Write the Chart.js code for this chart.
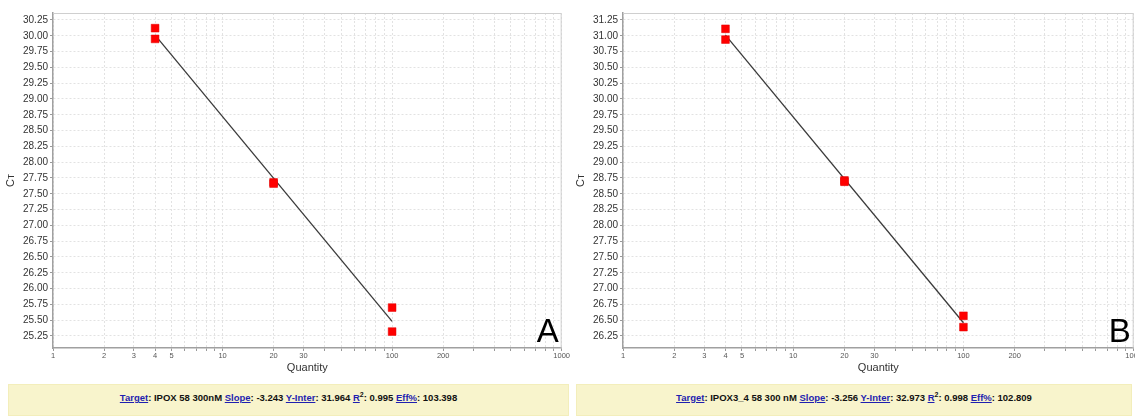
<!DOCTYPE html>
<html>
<head>
<meta charset="utf-8">
<script src="https://cdn.jsdelivr.net/npm/chart.js@4.4.1/dist/chart.umd.min.js"></script>
<style>
  html, body { margin: 0; padding: 0; background: #fff; overflow: hidden; width: 1135px; height: 416px; }
  .box { position: absolute; }
  .banner {
    position: absolute; top: 384px; height: 32px;
    background: #f8f4cc; border: 1px solid #f3eebb; box-sizing: border-box;
    font: bold 9.5px Arial, "Liberation Sans", sans-serif; color: #111;
    text-align: center; line-height: 25px; white-space: nowrap;
  }
  .banner a { color: #1f1fb0; text-decoration: underline; }
  .banner sup { font-size: 7px; line-height: 0; }
</style>
</head>
<body>
<div class="box" style="left:0;top:0;width:570px;height:380px"><canvas id="canvas"></canvas></div>
<div class="box" style="left:570px;top:0;width:572px;height:380px"><canvas id="canvas1"></canvas></div>

<div class="banner" style="left:8px;width:561px">
  <a>Target</a>: IPOX 58 300nM <a>Slope</a>: -3.243 <a>Y-Inter</a>: 31.964 <a>R</a><sup>2</sup>: 0.995 <a>Eff%</a>: 103.398
</div>
<div class="banner" style="left:576px;width:556px">
  <a>Target</a>: IPOX3_4 58 300 nM <a>Slope</a>: -3.256 <a>Y-Inter</a>: 32.973 <a>R</a><sup>2</sup>: 0.998 <a>Eff%</a>: 102.809
</div>

<script>
/* date */
const quantity = [4, 4, 20, 20, 100, 100];
const ctA = [30.12, 29.95, 27.68, 27.66, 25.70, 25.32];
const ctB = [31.11, 30.94, 28.71, 28.69, 26.57, 26.39];

// linia de regresie (capetele la 4 si 100)
const fitQty = [4, 100];
const fitA = [30.01, 25.48];
const fitB = [31.01, 26.46];

// etichete axe
const xTicks = [1,2,3,4,5,6,7,8,9,10,20,30,40,50,60,70,80,90,100,200,300,400,500,600,700,800,900,1000];
const xLabels = [1, 2, 3, 4, 5, 10, 20, 30, 100, 200, 1000];
const yTicksA = [25.25,25.5,25.75,26,26.25,26.5,26.75,27,27.25,27.5,27.75,28,28.25,28.5,28.75,29,29.25,29.5,29.75,30,30.25];
const yTicksB = [26.25,26.5,26.75,27,27.25,27.5,27.75,28,28.25,28.5,28.75,29,29.25,29.5,29.75,30,30.25,30.5,30.75,31,31.25];

const FONT = 'Arial, "Liberation Sans", sans-serif';

const frame = {
  id: 'frame',
  afterDraw(chart, args, opts) {
    const a = chart.chartArea;
    const c = chart.ctx;
    c.save();
    c.strokeStyle = '#cfcfcf';
    c.lineWidth = 1;
    c.beginPath();
    c.moveTo(a.left, a.top + 0.5);
    c.lineTo(a.right - 0.5, a.top + 0.5);
    c.lineTo(a.right - 0.5, a.bottom);
    c.stroke();
    c.fillStyle = '#000';
    c.font = '33px ' + FONT;
    c.textAlign = 'right';
    c.textBaseline = 'alphabetic';
    c.fillText(opts.letter, a.right - 3, a.bottom - 6);
    c.restore();
  }
};

function makeChart(id, ct, fit, yTicks, yMin, yMax, letter) {
  const ctx = document.getElementById(id);
  return new Chart(ctx, {
    type: 'scatter',
    data: {
      datasets: [{
        data: quantity.map((q, i) => ({x: q, y: ct[i]})),
        pointStyle: 'rect',
        pointRadius: 5.5,
        pointBackgroundColor: '#ff0000',
        pointBorderColor: '#e00000',
        pointBorderWidth: 0.5,
        showLine: false
      },
      {
        data: fitQty.map((q, i) => ({x: q, y: fit[i]})),
        showLine: true,
        borderColor: '#3a3a3a',
        borderWidth: 1.3,
        pointRadius: 0
      }]
    },
    options: {
      responsive: true,
      maintainAspectRatio: false,
      animation: false,
      layout: { padding: { top: 13, right: 8, left: 0, bottom: 0 } },
      plugins: {
        legend: { display: false },
        tooltip: { enabled: false },
        frame: { letter: letter }
      },
      scales: {
        x: {
          type: 'logarithmic',
          min: 1, max: 1000,
          afterBuildTicks: s => { s.ticks = xTicks.map(v => ({value: v})); },
          afterFit: s => { s.height = 32; },
          ticks: {
            autoSkip: false, maxRotation: 0, padding: 0,
            color: '#555', font: { family: FONT, size: 7.5 },
            callback: v => xLabels.includes(v) ? String(v) : ''
          },
          grid: { color: '#e2e2e2', tickColor: '#999', tickLength: 3 },
          border: { color: '#a0a0a0', width: 1.5, dash: [2, 2] },
          title: { display: true, text: 'Quantity', color: '#333',
                   font: { family: FONT, size: 11 }, padding: { top: 2, bottom: 5 } }
        },
        y: {
          type: 'linear',
          min: yMin, max: yMax,
          afterBuildTicks: s => { s.ticks = yTicks.map(v => ({value: v})); },
          afterFit: s => { s.width = 53; },
          ticks: {
            autoSkip: false, padding: 2,
            color: '#333', font: { family: FONT, size: 10 },
            callback: v => v.toFixed(2)
          },
          grid: { color: '#e2e2e2', tickColor: '#999', tickLength: 3 },
          border: { color: '#a0a0a0', width: 1.5, dash: [2, 2] },
          title: { display: true, text: 'Cᴛ', color: '#333',
                   font: { family: FONT, size: 11 }, padding: { top: 4, bottom: 0 } }
        }
      }
    },
    plugins: [frame]
  });
}

makeChart('canvas', ctA, fitA, yTicksA, 25.06, 30.36, 'A');
makeChart('canvas1', ctB, fitB, yTicksB, 26.06, 31.36, 'B');
</script>
</body>
</html>
